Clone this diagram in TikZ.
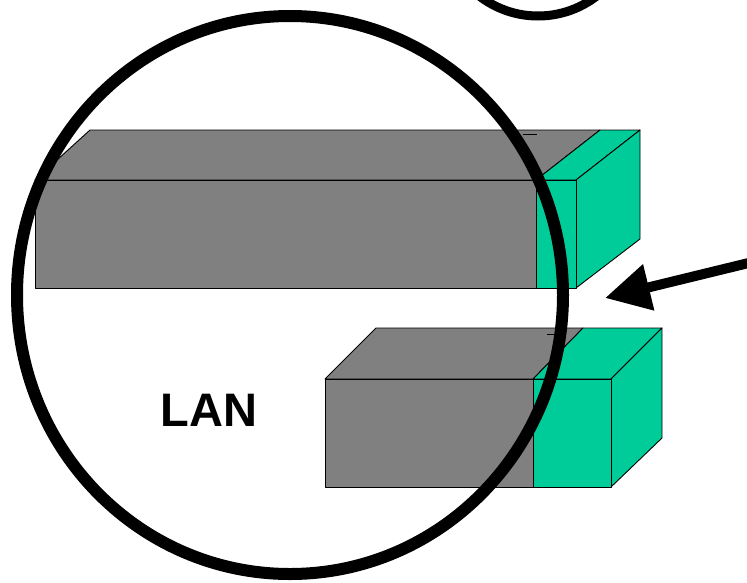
\documentclass[tikz,border=0pt]{standalone}
\usepackage{fontspec}
\setmainfont{Liberation Sans}
\usetikzlibrary{arrows.meta}
\definecolor{lanGreen}{HTML}{00CC99}

\begin{document}
\begin{tikzpicture}[x=1pt,y=-1pt,
    face/.style={draw=black, line width=0.9pt, line join=round},
    grayface/.style={face, fill=gray},
    greenface/.style={face, fill=lanGreen},
    ring/.style={draw=black, line width=12pt}]
  \clip (0,0) rectangle (747,582);
  % upper unit: long gray chassis with a green end block
  \filldraw[grayface] (35,180) -- (90,130) -- (600,130) -- (536,180) -- cycle;
  \filldraw[grayface] (35,180) rectangle (540,288);
  \draw[line width=0.9pt] (523,134) -- (537,134);
  \filldraw[greenface] (536,180) -- (600,130) -- (640,130) -- (576,180) -- cycle;
  \filldraw[greenface] (576,180) -- (640,130) -- (640,239) -- (576,288) -- cycle;
  \filldraw[greenface] (536,180) rectangle (576,288);
  % lower unit: shorter chassis, bigger green block
  \filldraw[grayface] (325,379) -- (376,328) -- (583,328) -- (533,379) -- cycle;
  \filldraw[grayface] (325,379) rectangle (535,487);
  \draw[line width=0.9pt] (547,334) -- (555,334);
  \filldraw[greenface] (533,379) -- (583,328) -- (662,328) -- (611,379) -- cycle;
  \filldraw[greenface] (611,379) -- (662,328) -- (662,438) -- (611,487) -- cycle;
  \filldraw[greenface] (533,379) rectangle (611,487);
  % the LAN ring and the neighbouring one above
  \draw[ring] (290,295) ellipse (273pt and 279pt);
  \draw[ring, line width=9pt] (538,-80) circle (96pt);
  \node[anchor=base, font=\bfseries\fontsize{47}{50}\selectfont] (lan) at (209,426) {LAN};
  % pointer into the gap between the units
  \coordinate (tail) at (765,259);
  \coordinate (tip) at (605,298);
  \draw[line width=10pt, -{Triangle[length=45pt,width=45pt]}] (tail) -- (tip);
\end{tikzpicture}
\end{document}
